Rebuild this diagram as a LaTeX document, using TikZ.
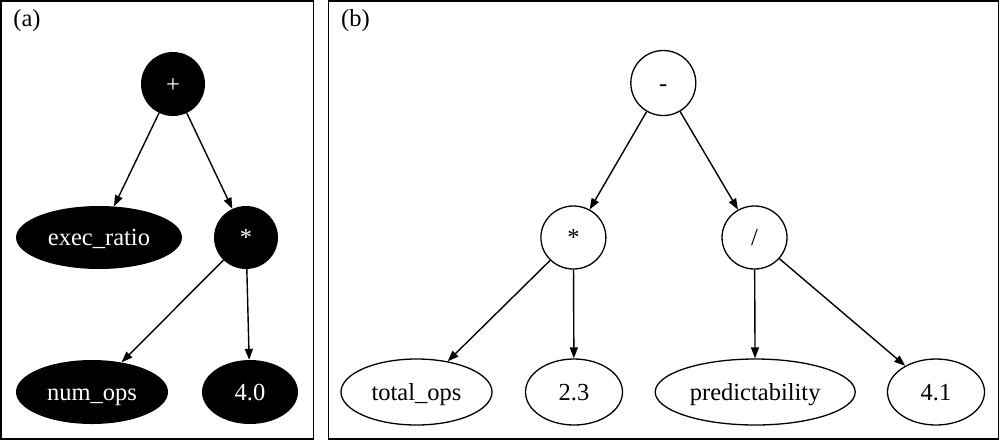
\documentclass[tikz,border=0pt]{standalone}
\usepackage{fontspec}
\setmainfont{Liberation Serif}
\usetikzlibrary{shapes.geometric,arrows.meta}
\begin{document}
\begin{tikzpicture}[x=1pt,y=-1pt,
  font=\fontsize{24.5}{29}\selectfont,
  panel/.style={draw,line width=1.5pt},
  fnode/.style={ellipse,fill=black,text=white,inner sep=0pt,text height=19pt,text depth=3pt},
  onode/.style={ellipse,draw,line width=1.3pt,fill=white,inner sep=0pt,text height=19pt,text depth=3pt},
  edge/.style={line width=1.4pt,-{Triangle[length=11pt,width=8pt]}},
  lbl/.style={inner sep=0pt}]
\useasboundingbox (0,0) rectangle (1000,440);
% panels
\draw[panel] (1,1) rectangle (313.5,439);
\draw[panel] (328.5,1) rectangle (998.5,439);
\node[lbl] (la) at (27,21) {(a)};
\node[lbl] (lb) at (355.5,21) {(b)};
% panel (a)
\node[fnode,minimum width=64pt,minimum height=64pt] (plus) at (173,84) {+};
\node[fnode,minimum width=166pt,minimum height=63pt] (exec) at (99,237.5) {exec\_ratio};
\node[fnode,minimum width=64pt,minimum height=63pt] (mul) at (246,237.5) {*};
\node[fnode,minimum width=152pt,minimum height=64pt] (num) at (92,392) {num\_ops};
\node[fnode,minimum width=96pt,minimum height=64pt] (four) at (250,392) {4.0};
\draw[edge] (plus) -- (exec);
\draw[edge] (plus) -- (mul);
\draw[edge] (mul) -- (num);
\draw[edge] (mul) -- (four);
% panel (b)
\node[onode,minimum width=65pt,minimum height=65pt] (minus) at (663.3,83) {-};
\node[onode,minimum width=65pt,minimum height=63pt] (bmul) at (573.4,237.5) {*};
\node[onode,minimum width=65pt,minimum height=63pt] (bdiv) at (754.5,237.5) {/};
\node[onode,minimum width=151pt,minimum height=66pt] (tot) at (416.5,392) {total\_ops};
\node[onode,minimum width=97pt,minimum height=66pt] (twothree) at (574,392) {2.3};
\node[onode,minimum width=200pt,minimum height=66pt] (pred) at (755.2,392) {predictability};
\node[onode,minimum width=97pt,minimum height=66pt] (fourone) at (936,392) {4.1};
\draw[edge] (minus) -- (bmul);
\draw[edge] (minus) -- (bdiv);
\draw[edge] (bmul) -- (tot);
\draw[edge] (bmul) -- (twothree);
\draw[edge] (bdiv) -- (pred);
\draw[edge] (bdiv) -- (fourone);
\end{tikzpicture}
\end{document}
